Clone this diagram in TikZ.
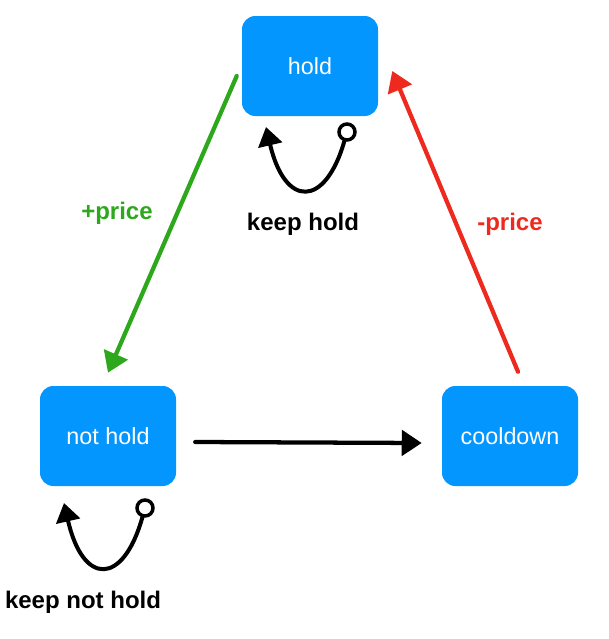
\documentclass[tikz,border=0pt]{standalone}
\usepackage{fontspec}
\setmainfont{Liberation Sans}
\usepackage{xcolor}
\usetikzlibrary{arrows.meta,positioning,calc}
\definecolor{stateblue}{HTML}{0496FF}
\definecolor{gainc}{HTML}{2DA81C}
\definecolor{lossc}{HTML}{EE2A1E}

\begin{document}
\begin{tikzpicture}[x=0.75pt,y=-0.75pt,
  state/.style={fill=stateblue,rounded corners=10pt,minimum width=102pt,minimum height=75pt,
    text=white,font=\fontsize{17.5}{20}\selectfont},
  tag/.style={font=\bfseries\fontsize{18}{21}\selectfont},
  move/.style={line width=3.2pt,line cap=round,-{Triangle[length=15pt,width=19pt]}},
  ring/.style={circle,draw,line width=2.6pt,minimum size=12pt,inner sep=0pt},
  stay/.style={line width=3pt,line cap=round,-{Triangle[length=14pt,width=18pt]}}]
\useasboundingbox (0,0) rectangle (608,639);
% States
\node[state] (hold) at (310,66) {hold};
\node[state] (nothold) at (108,436) {not hold};
\node[state] (cooldown) at (510,436) {cooldown};
% Transitions
\draw[move,gainc] ($(hold.west)+(-5,10)$) -- ($(nothold.north)+(0,-13)$);
\draw[move,lossc] ($(cooldown.north)+(8,-14)$) -- ($(hold.east)+(14,5)$);
\draw[move] ($(nothold.east)+(19,6)$) -- ($(cooldown.west)+(-20,7)$);
% Self loops
\node[ring] (holdring) at (347,132) {};
\coordinate (holdtip) at (266,127);
\draw[stay] (holdring) .. controls (325,208) and (285,208) .. (holdtip);
\node[ring] (notholdring) at (145,508) {};
\coordinate (notholdtip) at (64,503);
\draw[stay] (notholdring) .. controls (123,586) and (83,586) .. (notholdtip);
% Labels
\node[tag,gainc] (gain) at (117,213) {+price};
\node[tag,lossc] (loss) at (510,224) {-price};
\node[tag] (keephold) at (303,224) {keep hold};
\node[tag] (keepnothold) at (83,602) {keep not hold};
\end{tikzpicture}
\end{document}
